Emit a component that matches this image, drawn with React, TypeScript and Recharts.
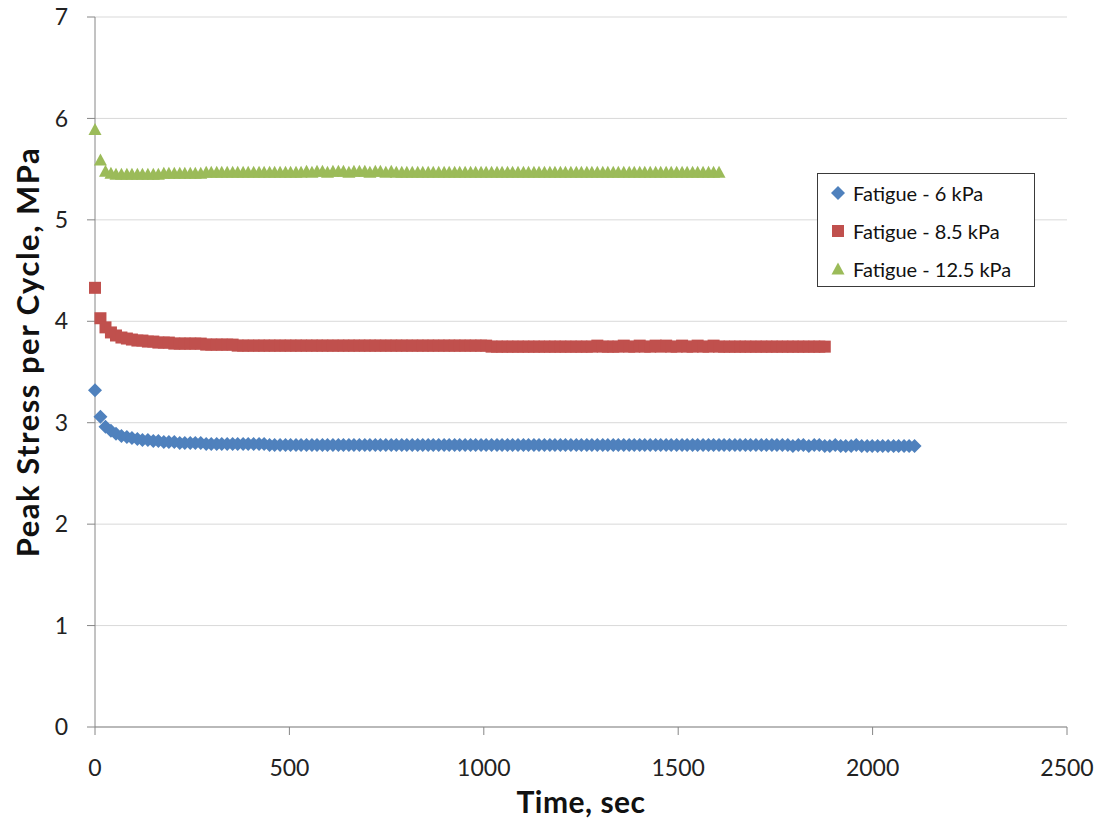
import React from "react";
import {
  ScatterChart, Scatter, XAxis, YAxis, CartesianGrid, Legend, Label,
} from "recharts";

const BLUE = "#4f81bd";
const RED = "#c0504d";
const GREEN = "#9bbb59";
const FONT = "Lato, 'Open Sans', sans-serif";

// cycle times, sec
const times = [
  0, 14, 27, 41, 54, 68, 82, 95, 109, 122,
  136, 150, 163, 177, 190, 204, 218, 231, 245, 258,
  272, 286, 299, 313, 326, 340, 354, 367, 381, 394,
  408, 422, 435, 449, 462, 476, 490, 503, 517, 530,
  544, 558, 571, 585, 598, 612, 626, 639, 653, 666,
  680, 694, 707, 721, 734, 748, 762, 775, 789, 802,
  816, 830, 843, 857, 870, 884, 898, 911, 925, 938,
  952, 966, 979, 993, 1006, 1020, 1034, 1047, 1061, 1074,
  1088, 1102, 1115, 1129, 1142, 1156, 1170, 1183, 1197, 1210,
  1224, 1238, 1251, 1265, 1278, 1292, 1306, 1319, 1333, 1346,
  1360, 1374, 1387, 1401, 1414, 1428, 1442, 1455, 1469, 1482,
  1496, 1510, 1523, 1537, 1550, 1564, 1578, 1591, 1605, 1618,
  1632, 1646, 1659, 1673, 1686, 1700, 1714, 1727, 1741, 1754,
  1768, 1782, 1795, 1809, 1822, 1836, 1850, 1863, 1877, 1890,
  1904, 1918, 1931, 1945, 1958, 1972, 1986, 1999, 2013, 2026,
  2040, 2054, 2067, 2081, 2094, 2108,
];

// peak stress, MPa
const fatigue6 = [
  3.32, 3.06, 2.96, 2.92, 2.89, 2.87, 2.86, 2.85, 2.84, 2.83,
  2.83, 2.82, 2.82, 2.81, 2.81, 2.81, 2.80, 2.80, 2.80, 2.80,
  2.80, 2.79, 2.79, 2.79, 2.79, 2.79, 2.79, 2.79, 2.79, 2.79,
  2.79, 2.79, 2.79, 2.78, 2.78, 2.78, 2.78, 2.78, 2.78, 2.78,
  2.78, 2.78, 2.78, 2.78, 2.78, 2.78, 2.78, 2.78, 2.78, 2.78,
  2.78, 2.78, 2.78, 2.78, 2.78, 2.78, 2.78, 2.78, 2.78, 2.78,
  2.78, 2.78, 2.78, 2.78, 2.78, 2.78, 2.78, 2.78, 2.78, 2.78,
  2.78, 2.78, 2.78, 2.78, 2.78, 2.78, 2.78, 2.78, 2.78, 2.78,
  2.78, 2.78, 2.78, 2.78, 2.78, 2.78, 2.78, 2.78, 2.78, 2.78,
  2.78, 2.78, 2.78, 2.78, 2.78, 2.78, 2.78, 2.78, 2.78, 2.78,
  2.78, 2.78, 2.78, 2.78, 2.78, 2.78, 2.78, 2.78, 2.78, 2.78,
  2.78, 2.78, 2.78, 2.78, 2.78, 2.78, 2.78, 2.78, 2.78, 2.78,
  2.78, 2.78, 2.78, 2.78, 2.78, 2.78, 2.78, 2.78, 2.78, 2.78,
  2.78, 2.78, 2.77, 2.78, 2.78, 2.77, 2.78, 2.78, 2.77, 2.77,
  2.78, 2.77, 2.77, 2.77, 2.78, 2.77, 2.77, 2.77, 2.77, 2.77,
  2.77, 2.77, 2.77, 2.77, 2.77, 2.77,
];

const fatigue85 = [
  4.33, 4.03, 3.94, 3.89, 3.86, 3.84, 3.83, 3.82, 3.81, 3.81,
  3.80, 3.80, 3.79, 3.79, 3.79, 3.78, 3.78, 3.78, 3.78, 3.78,
  3.78, 3.77, 3.77, 3.77, 3.77, 3.77, 3.77, 3.76, 3.76, 3.76,
  3.76, 3.76, 3.76, 3.76, 3.76, 3.76, 3.76, 3.76, 3.76, 3.76,
  3.76, 3.76, 3.76, 3.76, 3.76, 3.76, 3.76, 3.76, 3.76, 3.76,
  3.76, 3.76, 3.76, 3.76, 3.76, 3.76, 3.76, 3.76, 3.76, 3.76,
  3.76, 3.76, 3.76, 3.76, 3.76, 3.76, 3.76, 3.76, 3.76, 3.76,
  3.76, 3.76, 3.76, 3.76, 3.76, 3.75, 3.75, 3.75, 3.75, 3.75,
  3.75, 3.75, 3.75, 3.75, 3.75, 3.75, 3.75, 3.75, 3.75, 3.75,
  3.75, 3.75, 3.75, 3.75, 3.75, 3.76, 3.75, 3.75, 3.75, 3.75,
  3.76, 3.75, 3.75, 3.76, 3.75, 3.75, 3.76, 3.75, 3.76, 3.75,
  3.75, 3.76, 3.75, 3.75, 3.76, 3.75, 3.75, 3.76, 3.75, 3.75,
  3.75, 3.75, 3.75, 3.75, 3.75, 3.75, 3.75, 3.75, 3.75, 3.75,
  3.75, 3.75, 3.75, 3.75, 3.75, 3.75, 3.75, 3.75, 3.75,
];

const fatigue125 = [
  5.89, 5.59, 5.48, 5.46, 5.45, 5.45, 5.45, 5.45, 5.45, 5.45,
  5.45, 5.45, 5.45, 5.46, 5.46, 5.46, 5.46, 5.46, 5.46, 5.46,
  5.46, 5.47, 5.47, 5.47, 5.47, 5.47, 5.47, 5.47, 5.47, 5.47,
  5.47, 5.47, 5.47, 5.47, 5.47, 5.47, 5.47, 5.47, 5.47, 5.47,
  5.48, 5.47, 5.48, 5.48, 5.47, 5.48, 5.48, 5.48, 5.47, 5.48,
  5.48, 5.48, 5.47, 5.48, 5.48, 5.47, 5.48, 5.47, 5.47, 5.47,
  5.47, 5.47, 5.47, 5.47, 5.47, 5.47, 5.47, 5.47, 5.47, 5.47,
  5.47, 5.47, 5.47, 5.47, 5.47, 5.47, 5.47, 5.47, 5.47, 5.47,
  5.47, 5.47, 5.47, 5.47, 5.47, 5.47, 5.47, 5.47, 5.47, 5.47,
  5.47, 5.47, 5.47, 5.47, 5.47, 5.47, 5.47, 5.47, 5.47, 5.47,
  5.47, 5.47, 5.47, 5.47, 5.47, 5.47, 5.47, 5.47, 5.47, 5.47,
  5.47, 5.47, 5.47, 5.47, 5.47, 5.47, 5.47, 5.47, 5.47,
];

const xTicks = [0, 500, 1000, 1500, 2000, 2500];
const yTicks = [0, 1, 2, 3, 4, 5, 6, 7];

const series = [
  { name: "Fatigue - 6 kPa", values: fatigue6, color: BLUE, marker: "diamond" },
  { name: "Fatigue - 8.5 kPa", values: fatigue85, color: RED, marker: "square" },
  { name: "Fatigue - 12.5 kPa", values: fatigue125, color: GREEN, marker: "triangle" },
];

const toPoints = (values: number[]) => values.map((v, i) => ({ t: times[i], s: v }));

function Marker({ kind, cx, cy, color }: { kind: string; cx: number; cy: number; color: string }) {
  if (kind === "square") {
    return <rect x={cx - 6} y={cy - 6} width={12} height={12} fill={color} />;
  }
  if (kind === "triangle") {
    return <polygon points={`${cx},${cy - 6.5} ${cx + 6.5},${cy + 5.5} ${cx - 6.5},${cy + 5.5}`} fill={color} />;
  }
  const r = 7;
  return <polygon points={`${cx},${cy - r} ${cx + r},${cy} ${cx},${cy + r} ${cx - r},${cy}`} fill={color} />;
}

function LegendBox() {
  return (
    <div
      style={{
        width: 218, height: 114, boxSizing: "border-box", border: "1px solid #3a3a3a",
        background: "#fff", paddingTop: 0, fontFamily: FONT, fontSize: 20, color: "#111",
      }}
    >
      {series.map((s) => (
        <div key={s.name} style={{ height: 38, display: "flex", alignItems: "center" }}>
          <svg width={30} height={20} style={{ marginLeft: 5 }}>
            <Marker kind={s.marker} cx={15} cy={10} color={s.color} />
          </svg>
          <span>{s.name}</span>
        </div>
      ))}
    </div>
  );
}

export default function App() {
  return (
    <div style={{ position: "absolute", left: 0, top: 0, background: "#fff" }}>
      <ScatterChart width={1097} height={820} margin={{ top: 17, right: 30, bottom: 0, left: 0 }}>
        <CartesianGrid vertical={false} stroke="#d9d9d9" />
        <XAxis
          type="number" dataKey="t" domain={[0, 2500]} ticks={xTicks} interval={0}
          height={93} stroke="#868686" tickSize={8} tickMargin={25}
          tick={{ fontSize: 23, fill: "#222", fontFamily: FONT }}
        >
          <Label
            content={() => (
              <text
                x={581} y={813} textAnchor="middle" fontSize={30} fontWeight="bold"
                fontFamily={FONT} fill="#111" letterSpacing={0.5}
              >
                Time, sec
              </text>
            )}
          />
        </XAxis>
        <YAxis
          type="number" dataKey="s" domain={[0, 7]} ticks={yTicks} interval={0}
          width={95} stroke="#868686" tickSize={8} tickMargin={19}
          tick={{ fontSize: 23, fill: "#222", fontFamily: FONT }}
        >
          <Label
            content={() => (
              <text
                x={27} y={352} textAnchor="middle" dominantBaseline="central"
                transform="rotate(-90 27 352)" fontSize={31} fontWeight="bold"
                fontFamily={FONT} fill="#111" letterSpacing={1.5}
              >
                Peak Stress per Cycle, MPa
              </text>
            )}
          />
        </YAxis>
        <Legend
          layout="vertical" align="center" verticalAlign="middle"
          content={() => <LegendBox />}
          wrapperStyle={{ left: 817, top: 173, width: 218, height: 114 }}
        />
        {series.map((s) => (
          <Scatter
            key={s.name}
            name={s.name}
            data={toPoints(s.values)}
            fill={s.color}
            isAnimationActive={false}
            shape={(p: any) => <Marker kind={s.marker} cx={p.cx} cy={p.cy} color={s.color} />}
          />
        ))}
      </ScatterChart>
    </div>
  );
}
